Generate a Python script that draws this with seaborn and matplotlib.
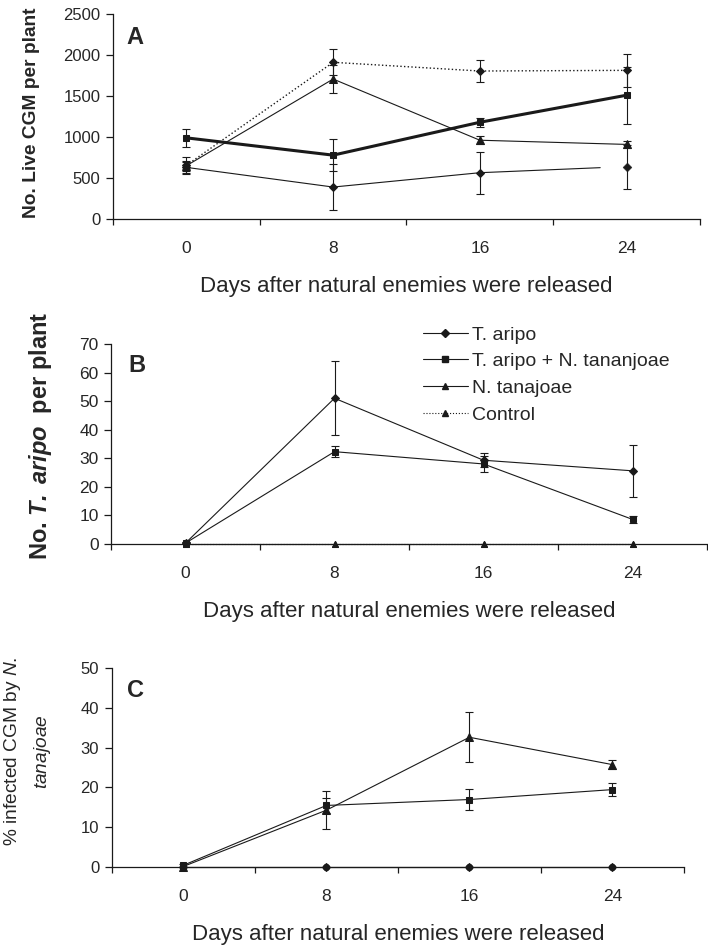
import numpy as np
import matplotlib
matplotlib.use('Agg')
import matplotlib.pyplot as plt
from matplotlib.lines import Line2D
import seaborn as sns

sns.set_style('ticks')
plt.rcParams['font.family'] = ['Liberation Sans', 'DejaVu Sans']
plt.rcParams['mathtext.fontset'] = 'custom'
plt.rcParams['mathtext.rm'] = 'Liberation Sans'
plt.rcParams['mathtext.it'] = 'Liberation Sans:italic'
plt.rcParams['mathtext.bf'] = 'Liberation Sans:bold'
plt.rcParams['mathtext.bfit'] = 'Liberation Sans:italic:bold'

# data
days = [0, 8, 16, 24]
labels = ['T. aripo', 'T. aripo + N. tananjoae', 'N. tanajoae', 'Control']

# A: live CGM per plant
a_aripo = [630, 390, 565, 640]
a_aripo_se = [70, 285, 258, 268]
a_combo = [990, 779, 1180, 1510]
a_combo_se = [110, 195, 55, 350]
a_tanaj = [650, 1707, 961, 910]
a_tanaj_se = [60, 170, 48, 45]
a_control = [655, 1911, 1805, 1813]
a_control_se = [100, 160, 136, 205]

# B: T. aripo per plant
b_aripo = [0.3, 51.0, 29.3, 25.6]
b_aripo_se = [0.3, 13.0, 2.5, 9.2]
b_combo = [0.3, 32.3, 28.0, 8.6]
b_combo_se = [0.3, 2.0, 2.8, 1.3]
b_tanaj = [0, 0, 0, 0]
b_control = [0, 0, 0, 0]

# C: % infected CGM
c_aripo = [0, 0, 0, 0]
c_combo = [0.3, 15.4, 16.9, 19.4]
c_combo_se = [0.3, 1.8, 2.6, 1.7]
c_tanaj = [0, 14.2, 32.6, 25.7]
c_tanaj_se = [0, 4.8, 6.3, 1.2]
c_control = [0, 0, 0, 0]

ink = '#1a1a1a'


def draw(ax, y, err=None, marker='D', ls='-', lw=0.8, ms=4.5):
    sns.lineplot(x=days, y=y, ax=ax, color=ink, marker=marker, linestyle=ls,
                 linewidth=lw, markersize=ms, markeredgecolor=ink,
                 markerfacecolor=ink, errorbar=None, clip_on=False, zorder=3)
    if err is not None:
        ax.errorbar(days, y, yerr=err, fmt='none', ecolor=ink, elinewidth=0.8,
                    capsize=3, capthick=0.8, zorder=2)


def style_axis(ax, ymax, ystep, ysize):
    ax.set_xlim(-4, 28)
    ax.set_ylim(0, ymax)
    ax.set_yticks(np.arange(0, ymax + 1, ystep))
    ax.set_xticks(days)
    ax.set_xticklabels([str(d) for d in days])
    ax.set_xticks([-4, 4, 12, 20, 28], minor=True)
    ax.tick_params(axis='x', which='major', length=0, pad=16, labelsize=12.5)
    ax.tick_params(axis='x', which='minor', length=4.5, width=0.9, direction='out', color=ink)
    ax.tick_params(axis='y', length=5, width=0.9, pad=4, labelsize=ysize, color=ink)
    ax.set_xlabel('Days after natural enemies were released', fontsize=16, labelpad=14.5)
    for s in ['left', 'bottom']:
        ax.spines[s].set_linewidth(0.9)
        ax.spines[s].set_color(ink)
    sns.despine(ax=ax)


fig = plt.figure(figsize=(7.08, 9.47), dpi=100)
axA = fig.add_axes([0.1596, 0.7687, 0.8291, 0.2165])
axB = fig.add_axes([0.1568, 0.4256, 0.8418, 0.2112])
axC = fig.add_axes([0.1578, 0.0850, 0.8083, 0.2093])

# ---- panel A
draw(axA, a_control, a_control_se, marker='D', ls=':', lw=1.0)
draw(axA, a_tanaj, a_tanaj_se, marker='^', ms=5.5)
draw(axA, a_combo, a_combo_se, marker='s', lw=2.2, ms=5)
# T. aripo line stops short of the last point in the original
sns.lineplot(x=days[:3], y=a_aripo[:3], ax=axA, color=ink, marker='D', linewidth=0.8,
             markersize=4.5, markeredgecolor=ink, markerfacecolor=ink, errorbar=None, zorder=3)
cut = days[2] + 0.82 * (days[3] - days[2])
sns.lineplot(x=[days[2], cut], y=[a_aripo[2], np.interp(cut, days, a_aripo)], ax=axA,
             color=ink, linewidth=0.8, errorbar=None, zorder=3)
sns.scatterplot(x=days[3:], y=a_aripo[3:], ax=axA, color=ink, marker='D', s=20,
                edgecolor=ink, zorder=3)
axA.errorbar(days, a_aripo, yerr=a_aripo_se, fmt='none', ecolor=ink, elinewidth=0.8,
             capsize=3, capthick=0.8, zorder=2)
style_axis(axA, 2500, 500, 12)
axA.set_ylabel('No. Live CGM per plant', fontsize=13.8, fontweight='bold', va='center')
axA.yaxis.set_label_coords(-0.138, 0.52)
axA.text(0.022, 0.94, 'A', transform=axA.transAxes, fontsize=17, fontweight='bold', va='top')

# ---- panel B
draw(axB, b_control, None, marker='^', ls=':', ms=5)
draw(axB, b_tanaj, None, marker='^', ms=5)
draw(axB, b_combo, b_combo_se, marker='s', ms=5)
draw(axB, b_aripo, b_aripo_se, marker='D')
style_axis(axB, 70, 10, 12.5)
axB.set_ylabel(r'No. $\mathbfit{T.\ aripo}$  per plant', fontsize=17, fontweight='bold', va='center')
axB.yaxis.set_label_coords(-0.119, 0.54)
axB.text(0.0285, 0.95, 'B', transform=axB.transAxes, fontsize=17, fontweight='bold', va='top')

handles = [
    Line2D([], [], color=ink, lw=0.8, marker='D', ms=4.5),
    Line2D([], [], color=ink, lw=0.8, marker='s', ms=5),
    Line2D([], [], color=ink, lw=0.8, marker='^', ms=5),
    Line2D([], [], color=ink, lw=0.8, ls=':', marker='^', ms=5),
]
axB.legend(handles, labels, loc='upper left', bbox_to_anchor=(0.5235, 1.09), frameon=False,
           fontsize=14, borderpad=0, borderaxespad=0, handlelength=2.3, handletextpad=0.2,
           labelspacing=0.465)

# ---- panel C
draw(axC, c_control, None, marker='o', ms=4.5)
draw(axC, c_aripo, None, marker='D', ms=4.5)
draw(axC, c_combo, c_combo_se, marker='s', ms=5)
draw(axC, c_tanaj, c_tanaj_se, marker='^', ms=5.5)
style_axis(axC, 50, 10, 12)
axC.set_ylabel('% infected CGM by $\\mathit{N.}$\n$\\mathit{tanajoae}$', fontsize=13.8,
               va='center', linespacing=1.6)
axC.yaxis.set_label_coords(-0.148, 0.58)
axC.text(0.027, 0.945, 'C', transform=axC.transAxes, fontsize=17, fontweight='bold', va='top')

fig.savefig('out.png', dpi=100)
